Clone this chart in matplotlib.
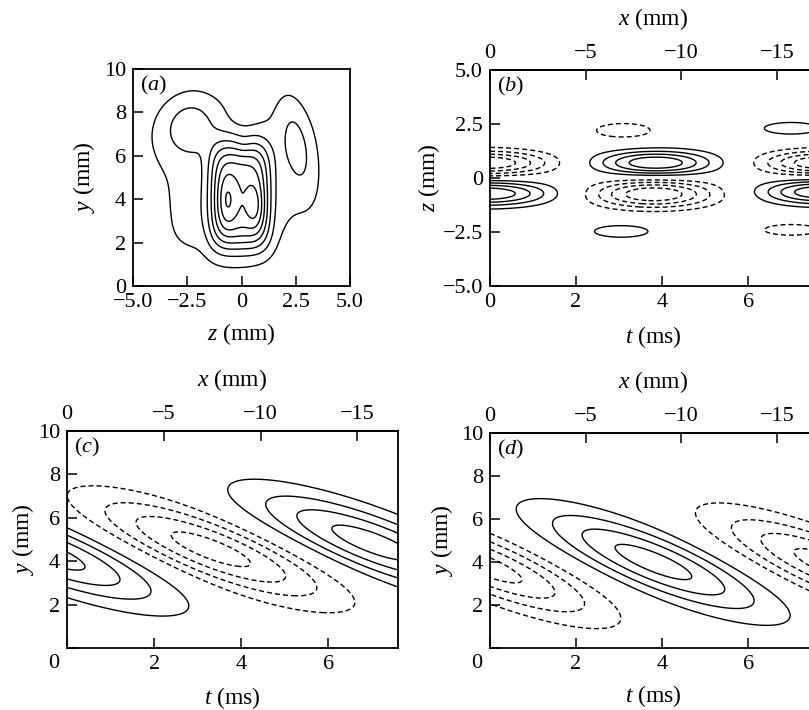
import numpy as np
import matplotlib
matplotlib.use('Agg')
import matplotlib.pyplot as plt

plt.rcParams['font.family'] = ['Liberation Serif', 'DejaVu Serif']
plt.rcParams['mathtext.fontset'] = 'custom'
plt.rcParams['mathtext.rm'] = 'Liberation Serif'
plt.rcParams['mathtext.it'] = 'Liberation Serif:italic'
plt.rcParams['axes.unicode_minus'] = True

# blobs: (centre h, centre v, amplitude, sigma major, sigma minor, angle of major axis in deg, power)
# panel (a): z (mm) vs y (mm)
a_blobs = [
    (-0.08, 4.15, 0.55, 2.05, 1.15, 90, 4),   # central column, plateau
    (-0.30, 3.90, 0.14, 2.00, 1.30, 90, 2),   # central column, skirt
    (-0.68, 3.95, 0.17, 0.85, 0.30, 90, 2),   # left peak
    (0.65, 3.70, 0.15, 0.75, 0.28, 90, 2),    # right peak
    (-0.50, 5.20, 0.08, 2.60, 3.40, 90, 3),   # broad base
    (-2.50, 2.50, 0.03, 1.00, 0.70, 60, 2),   # lower left shoulder
    (-2.45, 7.40, 0.20, 1.00, 0.85, 65, 2),   # upper left lobe
    (2.55, 6.45, 0.18, 1.50, 0.50, 100, 2),   # right lobe
    (0.10, 7.90, -0.06, 0.60, 0.50, 90, 2),   # notch at the top
    (0.10, 6.50, -0.05, 0.40, 0.30, 90, 2),
]
a_levels = [0.07, 0.18, 0.30, 0.42, 0.54, 0.66, 0.78, 0.90]

# panel (b): t (ms) vs z (mm)
b_blobs = [
    (-0.1, 0.70, -1.0, 1.05, 0.40, 0, 2),
    (-0.1, -0.72, 1.0, 1.05, 0.40, 0, 2),
    (3.85, 0.70, 1.0, 0.95, 0.40, 0, 2),
    (3.80, -0.75, -1.0, 1.00, 0.45, 0, 2),
    (7.70, 0.70, -1.0, 0.95, 0.40, 0, 2),
    (7.70, -0.65, 1.0, 0.95, 0.40, 0, 2),
    (3.10, 2.20, -0.28, 0.76, 0.39, 0, 2),
    (3.05, -2.47, 0.28, 0.76, 0.33, 0, 2),
    (7.00, 2.30, 0.28, 0.76, 0.33, 0, 2),
    (7.00, -2.40, -0.28, 0.76, 0.30, 0, 2),
]
b_levels = [0.2, 0.4, 0.6, 0.8]

# panel (c): t (ms) vs y (mm)
c_blobs = [
    (-0.5, 4.40, 0.9, 2.45, 0.8, -40, 2),
    (3.3, 4.55, -0.9, 2.45, 0.8, -40, 2),
    (7.0, 4.85, 0.9, 2.45, 0.8, -40, 2),
]
# panel (d): t (ms) vs y (mm)
d_blobs = [
    (-0.15, 3.85, -0.9, 2.4, 0.75, -42, 2),
    (3.80, 4.00, 0.9, 2.4, 0.75, -42, 2),
    (7.95, 3.80, -0.9, 2.4, 0.75, -42, 2),
]
cd_levels = [0.2, 0.4, 0.6, 0.8]

t_max = 7.6
speed = 2.25  # mm/ms, x = -speed * t


def field(H, V, blobs):
    f = np.zeros_like(H)
    for h0, v0, amp, su, sv, ang, p in blobs:
        a = np.deg2rad(ang)
        dh, dv = H - h0, V - v0
        u = dh * np.cos(a) + dv * np.sin(a)
        v = -dh * np.sin(a) + dv * np.cos(a)
        f += amp * np.exp(-0.5 * (np.abs(u / su) ** p + np.abs(v / sv) ** p))
    return f


def draw(ax, H, V, F, levels):
    pos = list(levels)
    neg = [-l for l in levels[::-1]]
    ax.contour(H, V, F, levels=pos, colors='k', linewidths=1.0, linestyles='solid')
    if F.min() < neg[-1]:
        ax.contour(H, V, F, levels=neg, colors='k', linewidths=1.0,
                   linestyles=[(0, (3.6, 2.2))])


W, Hpx = 809, 710
fig = plt.figure(figsize=(W / 100, Hpx / 100), dpi=100)


def axes_px(left, top, width, height):
    return fig.add_axes([left / W, 1 - (top + height) / Hpx, width / W, height / Hpx])


def style(ax):
    for s in ax.spines.values():
        s.set_linewidth(1.3)
    ax.tick_params(direction='in', length=7, width=1.1, labelsize=16, pad=5,
                   top=False, right=False)


def top_axis(ax):
    sec = ax.secondary_xaxis('top', functions=(lambda t: -speed * t, lambda x: -x / speed))
    sec.set_xticks([0, -5, -10, -15])
    sec.set_xticklabels(['0', '\u22125', '\u221210', '\u221215'])
    sec.tick_params(direction='in', length=7, width=1.1, labelsize=16, pad=5)
    sec.spines['top'].set_linewidth(1.3)
    sec.set_xlabel('$x$ (mm)', fontsize=17, labelpad=14)
    return sec


# (a)
ax_a = axes_px(133, 69, 217, 217)
z = np.linspace(-5, 5, 400)
y = np.linspace(0, 10, 400)
Z, Y = np.meshgrid(z, y)
draw(ax_a, Z, Y, field(Z, Y, a_blobs), a_levels)
ax_a.set_xlim(-5, 5)
ax_a.set_ylim(0, 10)
ax_a.set_xticks([-5, -2.5, 0, 2.5, 5])
ax_a.set_xticklabels(['\u22125.0', '\u22122.5', '0', '2.5', '5.0'])
ax_a.set_yticks([0, 2, 4, 6, 8, 10])
style(ax_a)
ax_a.set_xlabel('$z$ (mm)', fontsize=17)
ax_a.xaxis.set_label_coords(0.5, -0.16)
ax_a.xaxis.label.set_va('top')
ax_a.set_ylabel('$y$ (mm)', fontsize=17)
ax_a.yaxis.set_label_coords(-0.166, 0.5)
ax_a.text(0.03, 0.975, '($a$)', transform=ax_a.transAxes, fontsize=16, va='top', ha='left')

# (b)
ax_b = axes_px(490, 70, 327, 216)
t = np.linspace(0, t_max, 400)
zb = np.linspace(-5, 5, 400)
T, ZB = np.meshgrid(t, zb)
draw(ax_b, T, ZB, field(T, ZB, b_blobs), b_levels)
ax_b.set_xlim(0, t_max)
ax_b.set_ylim(-5, 5)
ax_b.set_xticks([0, 2, 4, 6])
ax_b.set_yticks([-5, -2.5, 0, 2.5, 5])
ax_b.set_yticklabels(['\u22125.0', '\u22122.5', '0', '2.5', '5.0'])
style(ax_b)
ax_b.set_xlabel('$t$ (ms)', fontsize=17)
ax_b.xaxis.set_label_coords(0.5, -0.175)
ax_b.xaxis.label.set_va('top')
ax_b.set_ylabel('$z$ (mm)', fontsize=17)
ax_b.yaxis.set_label_coords(-0.147, 0.5)
top_axis(ax_b)
ax_b.text(0.022, 0.975, '($b$)', transform=ax_b.transAxes, fontsize=16, va='top', ha='left')

# (c) and (d)
yc = np.linspace(0, 10, 400)
T2, YC = np.meshgrid(t, yc)
panels = [
    ((67, 431, 331, 217), c_blobs, '($c$)', -0.094, -0.172),
    ((490, 433, 327, 215), d_blobs, '($d$)', -0.107, -0.165),
]
for rect, blobs, tag, ylab_x, xlab_y in panels:
    ax = axes_px(*rect)
    draw(ax, T2, YC, field(T2, YC, blobs), cd_levels)
    ax.set_xlim(0, t_max)
    ax.set_ylim(0, 10)
    ax.set_xticks([0, 2, 4, 6])
    ax.set_xticklabels(['', '2', '4', '6'])
    ax.set_yticks([0, 2, 4, 6, 8, 10])
    ax.set_yticklabels(['', '2', '4', '6', '8', '10'])
    style(ax)
    ax.text(-0.04, -0.07, '0', transform=ax.transAxes, fontsize=16, ha='center', va='center')
    ax.set_xlabel('$t$ (ms)', fontsize=17)
    ax.xaxis.set_label_coords(0.5, xlab_y)
    ax.xaxis.label.set_va('top')
    ax.set_ylabel('$y$ (mm)', fontsize=17)
    ax.yaxis.set_label_coords(ylab_x, 0.5)
    top_axis(ax)
    ax.text(0.022, 0.975, tag, transform=ax.transAxes, fontsize=16, va='top', ha='left')

fig.savefig('out.png', dpi=100)
